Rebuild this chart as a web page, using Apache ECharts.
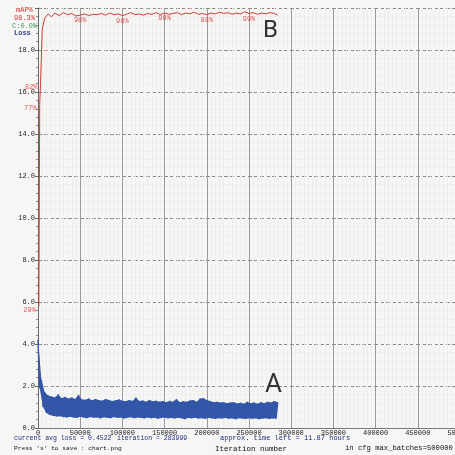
<!DOCTYPE html>
<html><head><meta charset="utf-8">
<script src="https://cdn.jsdelivr.net/npm/echarts@6/dist/echarts.min.js"></script>
<style>html,body{margin:0;padding:0;background:#f6f6f4}#c{width:455px;height:455px}</style>
</head><body><div id="c"></div>
<script>
const xTicks = [0,50000,100000,150000,200000,250000,300000,350000,400000,450000,500000];
const yTicks = [0,2,4,6,8,10,12,14,16,18,20];
const lossStep = 2000;
const lossHigh = [4.2,2.3,1.7,1.55,1.5,1.45,1.6,1.42,1.48,1.4,
 1.45,1.38,1.58,1.36,1.34,1.4,1.32,1.38,1.33,1.3,
 1.38,1.33,1.28,1.32,1.36,1.3,1.27,1.33,1.29,1.45,
 1.28,1.31,1.25,1.33,1.27,1.3,1.25,1.28,1.23,1.29,
 1.25,1.38,1.23,1.27,1.25,1.31,1.33,1.25,1.4,1.42,
 1.33,1.28,1.23,1.25,1.21,1.23,1.18,1.21,1.23,1.17,
 1.2,1.15,1.25,1.18,1.21,1.15,1.23,1.18,1.25,1.21,
 1.28,1.23];
const lossLow = [1.9,1.0,0.72,0.62,0.58,0.55,0.56,0.52,0.5,0.54,
 0.5,0.48,0.53,0.5,0.47,0.52,0.49,0.5,0.46,0.51,
 0.49,0.47,0.52,0.48,0.5,0.45,0.49,0.51,0.47,0.5,
 0.48,0.46,0.5,0.47,0.49,0.44,0.48,0.5,0.46,0.48,
 0.45,0.49,0.47,0.42,0.48,0.46,0.49,0.45,0.47,0.44,
 0.48,0.46,0.43,0.47,0.45,0.48,0.44,0.46,0.42,0.47,
 0.45,0.43,0.47,0.44,0.46,0.42,0.45,0.47,0.43,0.46,
 0.44];
const mapIters = [1000,2000,3000,5000,8000,12000,16000,20000,
 25000,30000,35000,40000,45000,50000,55000,60000,65000,70000,75000,80000,85000,90000,95000,100000,
 105000,110000,115000,120000,125000,130000,135000,140000,145000,150000,155000,160000,165000,170000,
 175000,180000,185000,190000,195000,200000,205000,210000,215000,220000,225000,230000,235000,240000,
 245000,250000,255000,260000,265000,270000,275000,280000,283999];
const mapValues = [29,77,82,95,97.6,98.6,97.9,98.8,
 98.2,98.9,98.4,98.7,98.1,98.3,98.6,98.2,98.5,98.4,98.7,98.3,98.8,98.4,98.6,98.2,
 98.5,98.9,98.4,98.6,98.3,98.7,98.5,98.9,98.4,98.8,98.5,98.7,98.9,98.4,
 98.8,98.6,99.0,98.5,98.7,98.4,98.8,98.6,99.0,98.7,98.9,98.5,98.8,98.6,
 99.1,98.7,98.9,98.5,98.8,98.6,98.9,98.7,98.3];
const earlyLabelIters = [1000,2000,3000];
const lineLabelIters = [50000,100000,150000,200000,250000];

// loss zigzag built from the two envelopes
const lossData = [];
for (let i = 0; i < lossHigh.length; i++) {
  lossData.push([i*2*lossStep, lossHigh[i]]);
  if (i < lossLow.length) lossData.push([(i*2+1)*lossStep, lossLow[i]]);
}
const highPts = lossHigh.map((v,i)=>[i*2*lossStep, v]);
const lowPts = lossLow.map((v,i)=>[(i*2+1)*lossStep, v]);
const mapData = mapIters.map((it,i)=>[it, mapValues[i]]);
const mapAt = it => mapValues[mapIters.indexOf(it)];
const earlyLbl = earlyLabelIters.map(it=>[it, mapAt(it)]);
const lineLbl = lineLabelIters.map(it=>[it, mapAt(it)]);

const MONO = 'Liberation Mono';
const chart = echarts.init(document.getElementById('c'), null, {renderer:'canvas'});
chart.setOption({
  animation:false,
  backgroundColor:'#f6f6f4',
  grid:{left:38, top:8, width:422, height:420, containLabel:false, outerBoundsMode:'none'},
  xAxis:{type:'value', min:0, max:500000, interval:50000,
    axisLine:{show:true, lineStyle:{color:'#777', width:1}},
    axisTick:{show:false},
    axisLabel:{fontFamily:MONO, fontSize:7, color:'#222', margin:2, showMaxLabel:true, hideOverlap:false,
      formatter:v=>String(v)},
    splitLine:{show:true, lineStyle:{color:'#999', width:1}},
    minorTick:{show:false, splitNumber:10},
    minorSplitLine:{show:true, lineStyle:{color:'#eeeeec', width:1}}
  },
  yAxis:[{type:'value', min:0, max:20, interval:2,
    axisLine:{show:true, lineStyle:{color:'#666', width:1}},
    axisTick:{show:true, length:3, lineStyle:{color:'#666'}},
    minorTick:{show:true, splitNumber:5, length:2, lineStyle:{color:'#888'}},
    axisLabel:{fontFamily:MONO, fontSize:7, color:'#222', margin:3,
      formatter:v=> v===20 ? '' : v.toFixed(1)},
    splitLine:{show:true, lineStyle:{color:'#8a8a8a', width:1, type:[4,2]}},
    minorSplitLine:{show:true, lineStyle:{color:'#eeeeec', width:1}}
  },{type:'value', min:0, max:100, show:false, splitLine:{show:false}}],
  series:[
    {type:'custom', name:'LossBand', z:2, silent:true,
     data:[0],
     renderItem:(params, api)=>{
       const pts = highPts.map(p=>api.coord(p)).concat(lowPts.slice().reverse().map(p=>api.coord(p)));
       return {type:'polygon', shape:{points:pts}, style:{fill:'#3356a8'}};
     }},
    {type:'line', name:'Loss', data:lossData, showSymbol:false, symbol:'none',
     lineStyle:{color:'#3356a8', width:1.4}, z:3},
    {type:'line', name:'mAP', yAxisIndex:1, data:mapData, showSymbol:false, symbol:'none',
     lineStyle:{color:'#d23a3a', width:1}, z:4},
    {type:'scatter', yAxisIndex:1, data:earlyLbl, symbolSize:0, z:5,
     label:{show:true, position:'left', distance:3, offset:[0,4], color:'#d93030', fontFamily:MONO, fontSize:7,
       formatter:p=>Math.round(p.value[1])+'%'}},
    {type:'scatter', yAxisIndex:1, data:lineLbl, symbolSize:0, z:5,
     label:{show:true, position:'bottom', distance:2, color:'#d93030', fontFamily:MONO, fontSize:7,
       formatter:p=>Math.round(p.value[1])+'%'}}
  ],
  graphic:[
    {type:'text', left:16, top:7, style:{text:'mAP%', fill:'#d93030', fontFamily:MONO, fontSize:7}},
    {type:'text', left:14, top:15, style:{text:'98.3%', fill:'#d93030', fontFamily:MONO, fontSize:7}},
    {type:'text', left:12, top:23, style:{text:'C:0.0%', fill:'#3a9a5a', fontFamily:MONO, fontSize:7}},
    {type:'text', left:14, top:30, style:{text:'Loss', fill:'#2a3f9a', fontFamily:MONO, fontSize:7, fontWeight:'bold'}},
    {type:'text', left:263, top:19, z:100, style:{text:'B', fill:'#333333', stroke:'none', lineWidth:0, fontFamily:'Roboto', fontSize:24}},
    {type:'text', left:265, top:372, z:100, style:{text:'A', fill:'#333333', stroke:'none', lineWidth:0, fontFamily:'Roboto', fontSize:26}},
    {type:'text', left:14, top:435, style:{text:'current avg loss = 0.4522', fill:'#1f2d80', fontFamily:MONO, fontSize:6.5}},
    {type:'text', left:117, top:435, style:{text:'iteration = 283999', fill:'#1f2d80', fontFamily:MONO, fontSize:6.5}},
    {type:'text', left:220, top:435, style:{text:'approx. time left = 11.87 hours', fill:'#1f2d80', fontFamily:MONO, fontSize:7}},
    {type:'text', left:14, top:445, style:{text:"Press 's' to save : chart.png", fill:'#111', fontFamily:MONO, fontSize:6.2}},
    {type:'text', left:215, top:445, style:{text:'Iteration number', fill:'#111', fontFamily:MONO, fontSize:7.5}},
    {type:'text', left:345, top:445, style:{text:'in cfg max_batches=500000', fill:'#111', fontFamily:MONO, fontSize:7.2}}
  ]
});
</script></body></html>
